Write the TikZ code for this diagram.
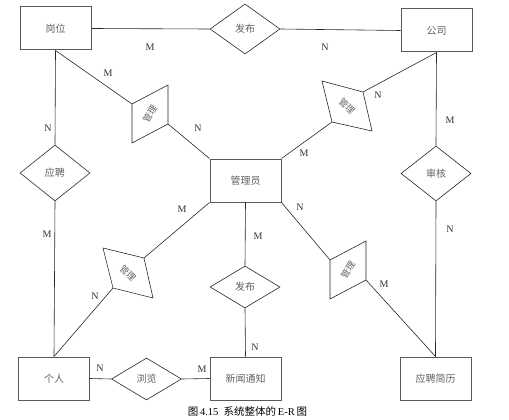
\documentclass[tikz,border=0pt]{standalone}
\usepackage{fontspec}
\setmainfont{Liberation Serif}
\newfontfamily\cjk{Noto Sans CJK SC}
\usetikzlibrary{shapes.geometric}
\begin{document}
\begin{tikzpicture}[x=1pt,y=-1pt,
  ent/.style={draw=black!65, line width=1pt, minimum width=71pt, minimum height=43pt,
    inner sep=0pt, font=\cjk\fontsize{10}{12}\selectfont, text=black!62},
  rel/.style={draw=black!85, diamond, line width=0.6pt, minimum width=70pt, minimum height=42pt,
    inner sep=0pt, font=\cjk\fontsize{10}{12}\selectfont, text=black!62},
  rtxt/.style={inner sep=0pt, font=\cjk\fontsize{9}{10}\selectfont, text=black!62},
  lnk/.style={draw=black!85, line width=0.6pt},
  lbl/.style={inner sep=0pt, font=\fontsize{10}{12}\selectfont, text=black!80}
]
\useasboundingbox (0,0) rectangle (509,420);

% entities
\node[ent] (gw)  at (55.5,28.5)  {岗位};
\node[ent] (gs)  at (436.5,30.5) {公司};
\node[ent] (gly) at (245.5,180.5) {管理员};
\node[ent] (gr)  at (54,378.5)   {个人};
\node[ent] (xw)  at (245.5,378.5) {新闻通知};
\node[ent] (yp)  at (435.5,378.5) {应聘简历};

% relations (upright diamonds)
\node[rel, minimum height=50pt] (fb1)   at (245,29)    {发布};
\node[rel, minimum height=56pt] (yping) at (55,173)    {应聘};
\node[rel, minimum height=55pt] (sh)    at (436,173.5) {审核};
\node[rel] (fb2) at (245,287)   {发布};
\node[rel] (ll)  at (146.5,379) {浏览};

% rotated relations 管理
\coordinate (a1) at (132,104); \coordinate (b1) at (168,85);
\coordinate (c1) at (168,124); \coordinate (d1) at (132,143);
\draw[lnk] (a1) -- (b1) -- (c1) -- (d1) -- cycle;
\node[rtxt, rotate=58] (m1) at (150,114) {管理};

\coordinate (p1) at (322,81);  \coordinate (p2) at (363,92);
\coordinate (p3) at (372,131); \coordinate (p4) at (332,122);
\draw[lnk] (p1) -- (p2) -- (p3) -- (p4) -- cycle;
\node[rtxt, rotate=-45] (m2) at (347,106) {管理};

\coordinate (q1) at (103,248); \coordinate (q2) at (144,258);
\coordinate (q3) at (153,298); \coordinate (q4) at (113,288);
\draw[lnk] (q1) -- (q2) -- (q3) -- (q4) -- cycle;
\node[rtxt, rotate=-45] (m3) at (128,273) {管理};

\coordinate (a2) at (330,260); \coordinate (b2) at (366,241);
\coordinate (c2) at (366,280); \coordinate (d2) at (330,299);
\draw[lnk] (a2) -- (b2) -- (c2) -- (d2) -- cycle;
\node[rtxt, rotate=58] (m4) at (348,270) {管理};

% connectors
\draw[lnk] (gw.east) -- (fb1.west);
\draw[lnk] (fb1.east) -- (gs.west);
\draw[lnk] (gw.south) -- (yping.north);
\draw[lnk] (yping.south) -- (gr.north);
\draw[lnk] (gw.south) -- (a1);
\draw[lnk] (c1) -- (gly.north west);
\draw[lnk] (gs.south) -- (p2);
\draw[lnk] (p4) -- (gly.north east);
\draw[lnk] (gs.south) -- (sh.north);
\draw[lnk] (sh.south) -- (yp.north);
\draw[lnk] (gly.south west) -- (q2);
\draw[lnk] (q4) -- (gr.north);
\draw[lnk] (gly.south east) -- (a2);
\draw[lnk] (c2) -- (yp.north);
\draw[lnk] (gly.south) -- (fb2.north);
\draw[lnk] (fb2.south) -- (xw.north);
\draw[lnk] (gr.east) -- (ll.west);
\draw[lnk] (ll.east) -- (xw.west);

% cardinality labels
\node[lbl] (l1)  at (150,47)  {M};
\node[lbl] (l2)  at (325,47)  {N};
\node[lbl] (l3)  at (48,128)  {N};
\node[lbl] (l4)  at (108,73)  {M};
\node[lbl] (l5)  at (198,128) {N};
\node[lbl] (l6)  at (47,234)  {M};
\node[lbl] (l7)  at (450,120) {M};
\node[lbl] (l8)  at (378,95)  {N};
\node[lbl] (l9)  at (304,153) {M};
\node[lbl] (l10) at (450,229) {N};
\node[lbl] (l11) at (300,207) {N};
\node[lbl] (l12) at (384,284) {M};
\node[lbl] (l13) at (182,209) {M};
\node[lbl] (l14) at (95,296)  {N};
\node[lbl] (l15) at (258,236) {M};
\node[lbl] (l16) at (255,347) {N};
\node[lbl] (l17) at (100,368) {N};
\node[lbl] (l18) at (202,369) {M};

% caption
\node[inner sep=0pt, font=\fontsize{10.5}{12}\selectfont] (cap) at (247.5,411)
  {{\cjk 图}\,4.15\ \ {\cjk 系统整体的}\,E-R\,{\cjk 图}};
\end{tikzpicture}
\end{document}
